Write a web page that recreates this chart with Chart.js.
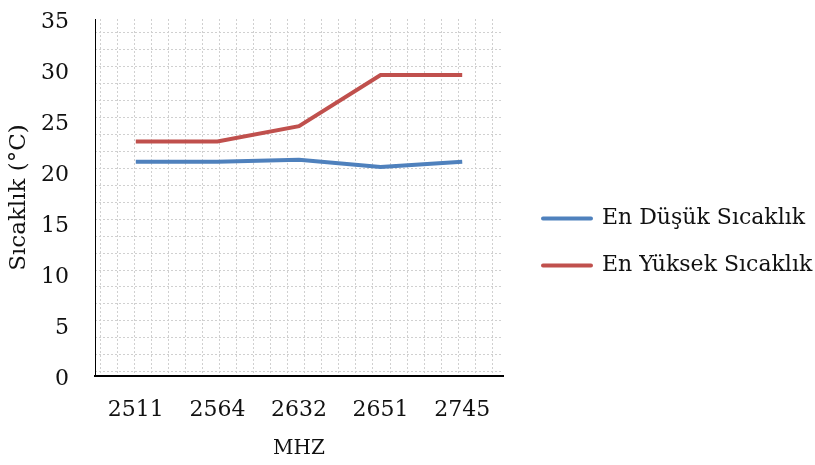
<!DOCTYPE html>
<html>
<head>
<meta charset="utf-8">
<title>Sıcaklık</title>
<script src="https://cdn.jsdelivr.net/npm/chart.js@4.4.1/dist/chart.umd.min.js"></script>
<style>
  html, body { margin: 0; padding: 0; background: #ffffff; }
  #wrap { width: 815px; height: 465px; }
</style>
</head>
<body>
<div id="wrap"><canvas id="chart" width="815" height="465"></canvas></div>
<script>
// Frequencies (MHz) on the category axis
const frequencies = ['2511', '2564', '2632', '2651', '2745'];

// Measured temperatures (°C)
const lowestTemps  = [21, 21, 21.2, 20.5, 21];
const highestTemps = [23, 23, 24.5, 29.5, 29.5];

const seriesNames = ['En Düşük Sıcaklık', 'En Yüksek Sıcaklık'];
const yTickValues = [0, 5, 10, 15, 20, 25, 30, 35];

const FONT = 'DejaVu Serif';
const BLUE = '#4f81bd';
const RED = '#c0504d';
const TEXT = '#111111';
const GRID = '#d0d0d0';

// Decorative dotted lattice behind the plot, spaced in pixels
const LATTICE_X = 17.06;
const LATTICE_Y = 16.95;

const ctx = document.getElementById('chart').getContext('2d');
new Chart(ctx, {
  type: 'line',
  data: {
    labels: frequencies,
    datasets: [
      {
        label: seriesNames[0],
        data: lowestTemps,
        borderColor: BLUE,
        backgroundColor: BLUE,
        borderWidth: 4,
        pointRadius: 0,
        tension: 0,
        xAxisID: 'x',
        yAxisID: 'y'
      },
      {
        label: seriesNames[1],
        data: highestTemps,
        borderColor: RED,
        backgroundColor: RED,
        borderWidth: 4,
        pointRadius: 0,
        tension: 0,
        xAxisID: 'x',
        yAxisID: 'y'
      }
    ]
  },
  options: {
    responsive: false,
    animation: false,
    devicePixelRatio: 1,
    layout: { padding: { top: 19, right: 0, bottom: 0, left: 0 } },
    plugins: {
      tooltip: { enabled: false },
      legend: {
        position: 'right',
        align: 'center',
        maxWidth: 297,
        labels: {
          boxWidth: 48,
          boxHeight: 0,
          padding: 25,
          color: TEXT,
          font: { family: FONT, size: 22 },
          generateLabels: (chart) => chart.data.datasets.map((ds, i) => ({
            text: ds.label,
            fillStyle: ds.borderColor,
            strokeStyle: ds.borderColor,
            lineWidth: 4,
            lineJoin: 'round',
            lineCap: 'round',
            hidden: false,
            datasetIndex: i,
            fontColor: TEXT
          }))
        }
      }
    },
    scales: {
      x: {
        type: 'category',
        position: 'bottom',
        offset: true,
        grid: { display: false, drawTicks: false },
        border: { display: true, color: '#000000', width: 2 },
        ticks: { color: TEXT, padding: 21, font: { family: FONT, size: 22 } },
        title: {
          display: true,
          text: 'MHZ',
          color: TEXT,
          padding: { top: 0, bottom: 4 },
          font: { family: FONT, size: 20 }
        },
        afterFit: (scale) => { scale.height = 89; }
      },
      y: {
        type: 'linear',
        position: 'left',
        min: 0,
        max: 35,
        grid: { display: false, drawTicks: false },
        border: { display: true, color: '#000000', width: 1 },
        afterBuildTicks: (scale) => { scale.ticks = yTickValues.map(v => ({ value: v })); },
        ticks: { color: TEXT, padding: 26, labelOffset: 3, font: { family: FONT, size: 22 } },
        title: {
          display: true,
          text: 'Sıcaklık (°C)',
          color: TEXT,
          padding: { top: 5, bottom: 0 },
          font: { family: FONT, size: 23 }
        },
        afterFit: (scale) => {
          scale.width = 95;
          scale.paddingTop = 0;
          scale.paddingBottom = 0;
        }
      },
      // pixel-unit axes that only carry the dotted background lattice
      gx: {
        type: 'linear',
        position: 'top',
        min: 0,
        max: 408,
        display: true,
        grid: { display: true, color: GRID, lineWidth: 1, drawTicks: false },
        border: { display: false, dash: [2, 2] },
        ticks: { display: false },
        afterBuildTicks: (scale) => {
          const t = [];
          for (let k = 0; k < 24; k++) t.push({ value: 5 + LATTICE_X * k });
          scale.ticks = t;
        },
        afterFit: (scale) => { scale.height = 0; }
      },
      gy: {
        type: 'linear',
        position: 'right',
        min: 0,
        max: 357,
        display: true,
        grid: { display: true, color: GRID, lineWidth: 1, drawTicks: false },
        border: { display: false, dash: [2, 2] },
        ticks: { display: false },
        afterBuildTicks: (scale) => {
          const t = [];
          for (let k = 0; k < 21; k++) t.push({ value: 4.3 + LATTICE_Y * k });
          scale.ticks = t;
        },
        afterFit: (scale) => { scale.width = 15; }
      }
    }
  }
});
</script>
</body>
</html>
